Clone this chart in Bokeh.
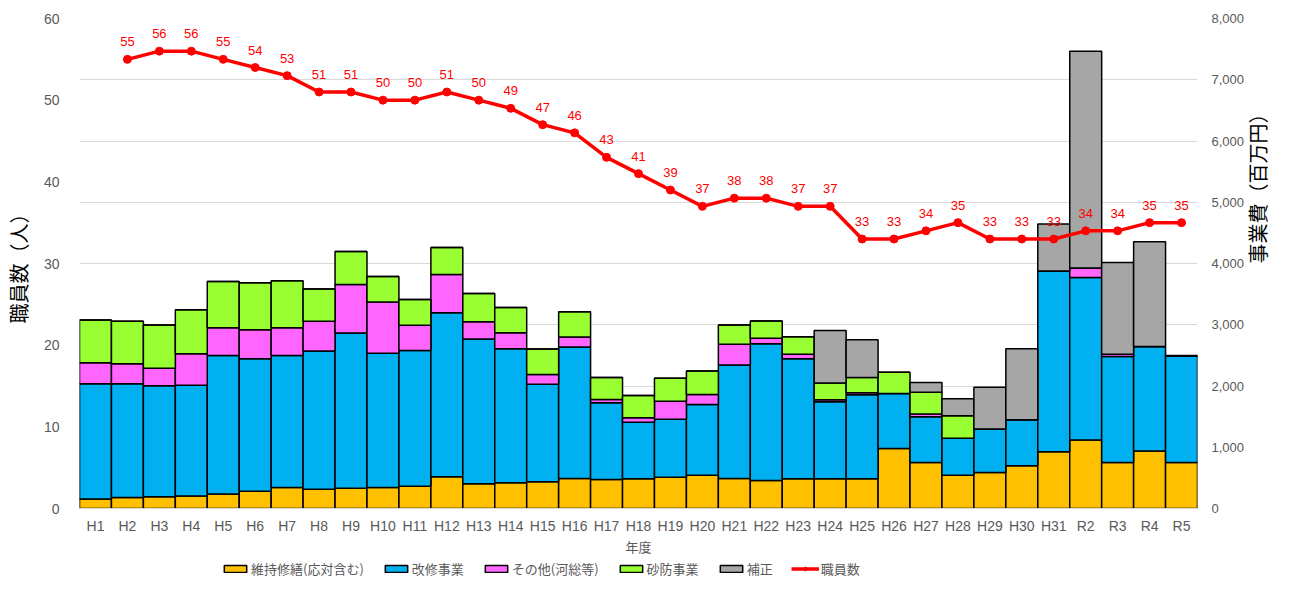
import math
import numpy as np
from bokeh.plotting import figure
from bokeh.layouts import column
from bokeh.models import (FactorRange, Range1d, LinearAxis, Grid, SingleIntervalTicker,
                          FixedTicker, Legend, LegendItem, LabelSet, ColumnDataSource,
                          NumeralTickFormatter)
from bokeh.core.properties import value
from bokeh.embed import file_html
from bokeh.resources import INLINE

years = ["H1", "H2", "H3", "H4", "H5", "H6", "H7", "H8", "H9", "H10",
         "H11", "H12", "H13", "H14", "H15", "H16", "H17", "H18", "H19", "H20",
         "H21", "H22", "H23", "H24", "H25", "H26", "H27", "H28", "H29", "H30",
         "H31", "R2", "R3", "R4", "R5"]

maint = [155, 181, 192, 203, 235, 283, 341, 315, 331, 341, 363, 517, 405, 421, 437, 491, 475,
         485, 512, 544, 491, 459, 485, 485, 485, 981, 752, 544, 587, 699, 928, 1120, 752, 939, 752]
kaishu = [1882, 1856, 1813, 1808, 2261, 2160, 2155, 2256, 2533, 2192, 2218, 2678, 2363, 2187,
          1590, 2144, 1253, 923, 944, 1152, 1850, 2229, 1958, 1259, 1371, 896, 747, 603, 709,
          752, 2949, 2651, 1728, 1706, 1733]
sonota = [342, 326, 283, 517, 453, 474, 453, 485, 795, 838, 411, 624, 283, 261, 160, 165, 53,
          75, 293, 165, 342, 91, 74, 32, 32, 0, 42, 0, 0, 0, 0, 154, 37, 0, 0]
sabo = [698, 693, 709, 715, 758, 768, 768, 528, 538, 416, 421, 442, 458, 411, 416, 411, 358,
        362, 379, 384, 314, 282, 288, 272, 251, 347, 358, 368, 0, 0, 0, 0, 0, 0, 0]
hosei = [0, 0, 0, 0, 0, 0, 0, 0, 0, 0, 0, 0, 0, 0, 0, 0, 0, 0, 0, 0, 0, 0, 0,
         859, 618, 0, 160, 277, 683, 1157, 768, 3542, 1499, 1712, 15]
staff = [None, 55, 56, 56, 55, 54, 53, 51, 51, 50, 50, 51, 50, 49, 47, 46, 43, 41, 39, 37,
         38, 38, 37, 37, 33, 33, 34, 35, 33, 33, 33, 34, 34, 35, 35]

series_keys = ["maint", "kaishu", "sonota", "sabo", "hosei"]
series_names = ["維持修繕(応対含む)", "改修事業", "その他(河総等)", "砂防事業", "補正"]
colors = ["#FFC000", "#00B0F0", "#FF66FF", "#99FF33", "#A6A6A6"]

JP = "Noto Sans CJK JP"
LAT = "Liberation Sans"
GRAY = "#595959"
RED = "#FF0000"

bar_src = ColumnDataSource(dict(x=years, maint=maint, kaishu=kaishu, sonota=sonota,
                                sabo=sabo, hosei=hosei))
sx = [y for y, s in zip(years, staff) if s is not None]
sy = [s for s in staff if s is not None]
line_src = ColumnDataSource(dict(x=sx, y=sy, t=[str(v) for v in sy]))

p = figure(x_range=FactorRange(*years), y_range=Range1d(0, 60),
           width=1289, height=558, output_backend="svg", toolbar_location=None,
           min_border_left=78, min_border_right=80, min_border_top=18, min_border_bottom=40)
p.outline_line_color = None
p.extra_y_ranges = {"money": Range1d(0, 8000)}

p.xgrid.visible = False
p.ygrid.visible = False
p.add_layout(Grid(dimension=1, ticker=SingleIntervalTicker(interval=1000),
                  y_range_name="money", grid_line_color="#D9D9D9", grid_line_width=1))

bars = p.vbar_stack(series_keys, x="x", width=1.0, source=bar_src, y_range_name="money",
                    color=colors, line_color="black", line_width=1.5)

ln = p.line("x", "y", source=line_src, line_color=RED, line_width=3.5)
sc = p.scatter("x", "y", source=line_src, size=8, color=RED)

labels = LabelSet(x="x", y="y", text="t", source=line_src, y_offset=13,
                  text_align="center", text_baseline="bottom", text_color=RED,
                  text_font=value(LAT), text_font_size="13px")
p.add_layout(labels)

# left axis
ya = p.yaxis[0]
ya.ticker = FixedTicker(ticks=[0, 10, 20, 30, 40, 50, 60])
ya.axis_line_color = None
ya.major_tick_line_color = None
ya.minor_tick_line_color = None
ya.major_label_text_font = LAT
ya.major_label_text_font_size = "14px"
ya.major_label_text_color = GRAY
ya.major_label_standoff = 14
ya.axis_label = "職員数（人）"
ya.axis_label_text_font = JP
ya.axis_label_text_font_size = "20px"
ya.axis_label_text_font_style = "normal"
ya.axis_label_text_color = "black"
ya.axis_label_standoff = 8

# right axis
ra = LinearAxis(y_range_name="money", ticker=SingleIntervalTicker(interval=1000),
                formatter=NumeralTickFormatter(format="0,0"))
ra.axis_line_color = None
ra.major_tick_line_color = None
ra.minor_tick_line_color = None
ra.major_label_text_font = LAT
ra.major_label_text_font_size = "13px"
ra.major_label_text_color = GRAY
ra.major_label_standoff = 8
ra.axis_label = "事業費（百万円）"
ra.axis_label_text_font = JP
ra.axis_label_text_font_size = "20px"
ra.axis_label_text_font_style = "normal"
ra.axis_label_text_color = "black"
ra.axis_label_standoff = 10
if "axis_label_orientation" in ra.properties():
    ra.axis_label_orientation = math.pi / 2
p.add_layout(ra, "right")

# x axis
xa = p.xaxis[0]
xa.axis_line_color = "#D9D9D9"
xa.major_tick_line_color = None
xa.minor_tick_line_color = None
xa.major_label_text_font = LAT
xa.major_label_text_font_size = "14px"
xa.major_label_text_color = GRAY
xa.major_label_standoff = 3
xa.axis_label = "年度"
xa.axis_label_text_font = JP
xa.axis_label_text_font_size = "13px"
xa.axis_label_text_font_style = "normal"
xa.axis_label_text_color = GRAY
xa.axis_label_standoff = 0

# legend strip below the chart (legend-only renderers that draw nothing)
lg = figure(x_range=Range1d(0, 1), y_range=Range1d(0, 1),
            width=1289, height=20, output_backend="svg", toolbar_location=None,
            x_axis_location=None, y_axis_location=None,
            min_border_left=0, min_border_right=0, min_border_top=0, min_border_bottom=0)
lg.outline_line_color = None
lg.xgrid.visible = False
lg.ygrid.visible = False
nan_src = ColumnDataSource(dict(x=np.array([np.nan]), y=np.array([np.nan]),
                                top=np.array([np.nan])))
lg_bars = [lg.vbar(x="x", top="top", bottom=0, width=1.0, source=nan_src,
                   fill_color=c, line_color="black", line_width=1.5) for c in colors]
lg_line = lg.line("x", "y", source=nan_src, line_color=RED, line_width=3.5)
lg_dot = lg.scatter("x", "y", source=nan_src, size=8, color=RED)

items = [LegendItem(label=n, renderers=[r]) for n, r in zip(series_names, lg_bars)]
items.append(LegendItem(label="職員数", renderers=[lg_line, lg_dot]))
legend = Legend(items=items, orientation="horizontal", location=(142, 0),
                label_text_font=JP, label_text_font_size="13px", label_text_color=GRAY,
                glyph_width=28, glyph_height=9, spacing=18, label_standoff=2,
                padding=0, margin=0, border_line_color=None, background_fill_alpha=0)
lg.add_layout(legend, "center")

layout = column(p, lg, spacing=0)
open("out.html", "w").write(file_html(layout, INLINE))
